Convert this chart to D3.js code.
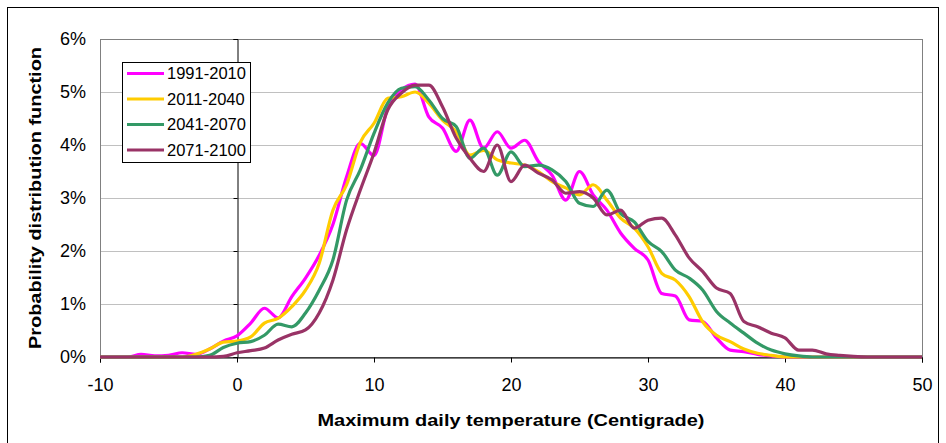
<!DOCTYPE html>
<html>
<head>
<meta charset="utf-8">
<script src="https://cdn.jsdelivr.net/npm/d3@7"></script>
<style>
  body { margin: 0; background: #fff; }
  svg { display: block; font-family: "Liberation Sans", Arial, sans-serif; }
</style>
</head>
<body>
<svg id="chart" width="946" height="443"></svg>
<script>
// temperatures (deg C), one value per degree
const temps = d3.range(-10, 51);
// probability density, in percent
const p1991 = [0,0,0,0.05,0.02,0.03,0.08,0.05,0.15,0.3,
  0.4,0.64,0.92,0.74,1.14,1.49,1.92,2.5,3.4,4.03,
  3.8,4.7,5.04,5.15,4.53,4.32,3.88,4.47,3.94,4.25,
  3.94,4.09,3.69,3.43,2.96,3.5,3.06,2.77,2.34,2.05,
  1.83,1.2,1.15,0.7,0.67,0.36,0.13,0.1,0.05,0.02,
  0,0,0,0,0,0,0,0,0,0,0];
const p2011 = [0,0,0,0,0,0,0,0.05,0.15,0.28,
  0.3,0.38,0.64,0.73,0.95,1.26,1.77,2.77,3.25,4.05,
  4.41,4.88,4.91,5.0,4.79,4.47,4.25,3.81,3.9,3.72,
  3.66,3.62,3.5,3.31,3.19,3.06,3.25,2.96,2.62,2.43,
  2.08,1.58,1.45,1.14,0.66,0.41,0.29,0.15,0.07,0.03,
  0,0,0,0,0,0,0,0,0,0,0];
const p2041 = [0,0,0,0,0,0,0,0,0.03,0.18,
  0.26,0.29,0.41,0.62,0.57,0.83,1.26,1.83,2.96,3.53,
  4.22,4.79,5.07,5.1,4.85,4.5,4.35,3.75,3.94,3.43,
  3.87,3.59,3.62,3.53,3.31,2.9,2.84,3.15,2.71,2.55,
  2.18,1.99,1.64,1.49,1.26,0.86,0.64,0.45,0.26,0.13,
  0.06,0.02,0,0,0,0,0,0,0,0,0];
const p2071 = [0,0,0,0,0,0,0,0,0,0.01,
  0.08,0.12,0.17,0.32,0.43,0.51,0.83,1.45,2.4,3.15,
  3.85,4.66,4.98,5.13,5.13,4.72,4.13,3.75,3.5,4.0,
  3.31,3.62,3.47,3.34,3.09,3.12,3.0,2.68,2.77,2.43,
  2.58,2.62,2.3,1.87,1.61,1.3,1.2,0.67,0.57,0.45,
  0.36,0.13,0.13,0.06,0.03,0.01,0,0,0,0,0];
const seriesNames = ["1991-2010", "2011-2040", "2041-2070", "2071-2100"];
const seriesColors = ["#ff00ff", "#ffcc00", "#339966", "#993366"];
const xTicks = [-10, 0, 10, 20, 30, 40, 50];
const yTicks = [0, 1, 2, 3, 4, 5, 6];

const series = [p1991, p2011, p2041, p2071];

const svg = d3.select("#chart");
const plotL = 100, plotR = 922, plotT = 39, plotB = 357;

// outer chart border
svg.append("rect").attr("x", 7.5).attr("y", 7.5).attr("width", 931).attr("height", 450)
  .attr("fill", "none").attr("stroke", "#000");

const x = d3.scaleLinear().domain([-10, 50]).range([plotL, plotR]);
const y = d3.scaleLinear().domain([0, 6]).range([plotB, plotT]);

// gridlines
svg.append("g").selectAll("line").data(yTicks.slice(1, -1)).join("line")
  .attr("x1", plotL).attr("x2", plotR)
  .attr("y1", d => Math.round(y(d)) + 0.5).attr("y2", d => Math.round(y(d)) + 0.5)
  .attr("stroke", "#c0c0c0");

// plot area border
svg.append("rect").attr("x", plotL + 0.5).attr("y", plotT + 0.5)
  .attr("width", plotR - plotL).attr("height", plotB - plotT)
  .attr("fill", "none").attr("stroke", "#808080");

// y axis crosses at x = 0
const yAxis = svg.append("g").attr("transform", `translate(${Math.round(x(0)) + 0.5},0)`)
  .call(d3.axisLeft(y).tickValues(yTicks).tickSize(4).tickFormat(""));
yAxis.select(".domain").attr("stroke", "#000");

// y tick labels at left edge
svg.append("g").selectAll("text").data(yTicks).join("text")
  .attr("x", 86).attr("y", d => y(d)).attr("dy", "0.35em")
  .attr("text-anchor", "end").attr("font-size", 18).text(d => d + "%");

const xAxis = svg.append("g").attr("transform", `translate(0,${plotB + 0.5})`)
  .call(d3.axisBottom(x).tickValues(xTicks).tickSize(5).tickPadding(16).tickFormat(d => String(d)));
xAxis.select(".domain").attr("stroke", "#000");
xAxis.selectAll("text").attr("font-size", 18).attr("fill", "#000")
  .attr("font-family", "Liberation Sans, Arial, sans-serif");

// lines
const line = d3.line().x((d, i) => x(temps[i])).y(d => y(d)).curve(d3.curveMonotoneX);
svg.append("g").selectAll("path").data(series).join("path")
  .attr("d", line).attr("fill", "none")
  .attr("stroke", (d, i) => seriesColors[i]).attr("stroke-width", 3.2)
  .attr("stroke-linejoin", "round");

// axis titles
svg.append("text").attr("x", 511).attr("y", 426).attr("text-anchor", "middle")
  .attr("font-size", 17).attr("font-weight", "bold")
  .attr("textLength", 387).attr("lengthAdjust", "spacingAndGlyphs")
  .text("Maximum daily temperature (Centigrade)");
svg.append("text").attr("transform", "translate(41,198) rotate(-90)").attr("text-anchor", "middle")
  .attr("font-size", 17).attr("font-weight", "bold")
  .attr("textLength", 302).attr("lengthAdjust", "spacingAndGlyphs")
  .text("Probability distribution function");

// legend
const lg = svg.append("g");
lg.append("rect").attr("x", 122.5).attr("y", 62.5).attr("width", 128).attr("height", 100)
  .attr("fill", "#fff").attr("stroke", "#000");
const items = lg.selectAll("g").data(seriesNames).join("g")
  .attr("transform", (d, i) => `translate(0,${73.5 + i * 25.5})`);
items.append("line").attr("x1", 127).attr("x2", 164)
  .attr("stroke", (d, i) => seriesColors[i]).attr("stroke-width", 3.2);
items.append("text").attr("x", 167).attr("dy", "0.36em").attr("font-size", 16.5).text(d => d);
</script>
</body>
</html>
